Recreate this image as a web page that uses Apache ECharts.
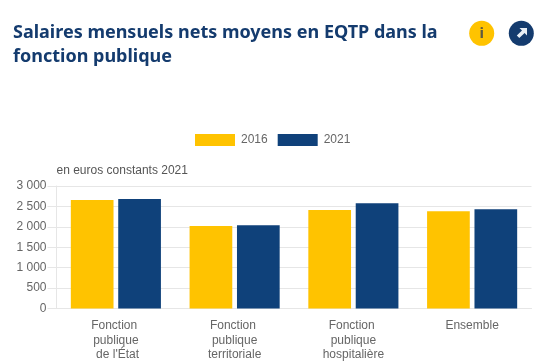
<!DOCTYPE html>
<html>
<head>
<meta charset="utf-8">
<style>
html,body{margin:0;padding:0;background:#fff;}
#chart{width:545px;height:362px;}
</style>
<script src="https://cdn.jsdelivr.net/npm/echarts@6/dist/echarts.min.js"></script>
</head>
<body>
<div id="chart"></div>
<script>
var categories = ['Fonction\u00a0\npublique\n\u00a0de l\'État', 'Fonction\u00a0\npublique\nterritoriale', 'Fonction\u00a0\npublique\nhospitalière', 'Ensemble'];
var values2016 = [2660, 2020, 2410, 2380];
var values2021 = [2680, 2040, 2580, 2430];
var yTicks = { min: 0, max: 3000, interval: 500 };

var chart = echarts.init(document.getElementById('chart'), null, { renderer: 'canvas' });
var labelFont = '"Liberation Sans", Arial, sans-serif';
var navy = '#0f417a';
var yellow = '#ffc300';

function fmt(v) {
	// espace comme separateur de milliers
	return String(v).replace(/\B(?=(\d{3})+$)/g, ' ');
}

chart.setOption({
	animation: false,
	backgroundColor: '#fff',
	textStyle: { fontFamily: labelFont },
	title: {
		text: 'Salaires mensuels nets moyens en EQTP dans la\nfonction publique',
		left: 8,
		top: 16,
		textStyle: {
			fontFamily: '"Noto Sans", sans-serif',
			fontSize: 18,
			fontWeight: 'bold',
			color: '#143b6e',
			lineHeight: 24
		}
	},
	legend: {
		data: ['2016', '2021'],
		left: 190,
		top: 129,
		itemWidth: 40,
		itemHeight: 12,
		itemGap: 10,
		icon: 'rect',
		textStyle: { color: '#666', fontSize: 12, fontFamily: labelFont, padding: [0, 0, 0, 1] }
	},
	grid: { left: 56.5, right: 13.5, top: 186, bottom: 53.5, outerBoundsMode: 'none' },
	xAxis: {
		type: 'category',
		data: categories,
		axisTick: { show: false },
		axisLine: { show: true, lineStyle: { color: '#e6e6e6' } },
		axisLabel: { color: '#666', fontSize: 12, lineHeight: 14.5, margin: 10, interval: 0, fontFamily: labelFont }
	},
	yAxis: {
		type: 'value',
		min: yTicks.min,
		max: yTicks.max,
		interval: yTicks.interval,
		name: 'en euros constants 2021',
		nameLocation: 'end',
		nameGap: 9,
		nameTextStyle: { color: '#555', fontSize: 12, align: 'left', fontFamily: labelFont },
		axisLine: { show: true, lineStyle: { color: '#e6e6e6' } },
		axisTick: { show: true, length: 9, lineStyle: { color: '#e6e6e6' } },
		axisLabel: { color: '#666', fontSize: 12, margin: 10, formatter: fmt, fontFamily: labelFont },
		splitLine: { show: true, lineStyle: { color: '#e6e6e6' } }
	},
	series: [
		{ name: '2016', type: 'bar', data: values2016, barWidth: 42.7, barGap: '11%', itemStyle: { color: yellow } },
		{ name: '2021', type: 'bar', data: values2021, barWidth: 42.7, itemStyle: { color: navy } }
	],
	graphic: [
		{ type: 'circle', shape: { cx: 481.7, cy: 33.3, r: 12.5 }, style: { fill: yellow } },
		{ type: 'text', style: { x: 481.7, y: 34, text: 'i', fill: '#5f5a40', font: 'bold 15px "Noto Sans", sans-serif', textAlign: 'center', textVerticalAlign: 'middle' } },
		{ type: 'circle', shape: { cx: 521.3, cy: 33.3, r: 12.5 }, style: { fill: '#143b6e' } },
		{ type: 'polygon', shape: { points: [[519.5, 28], [527, 28], [527, 35.5], [524.6, 33], [519.3, 38], [516.8, 35.5], [522, 30.4]] }, style: { fill: '#e8eef5' } }
	]
});
</script>
</body>
</html>
